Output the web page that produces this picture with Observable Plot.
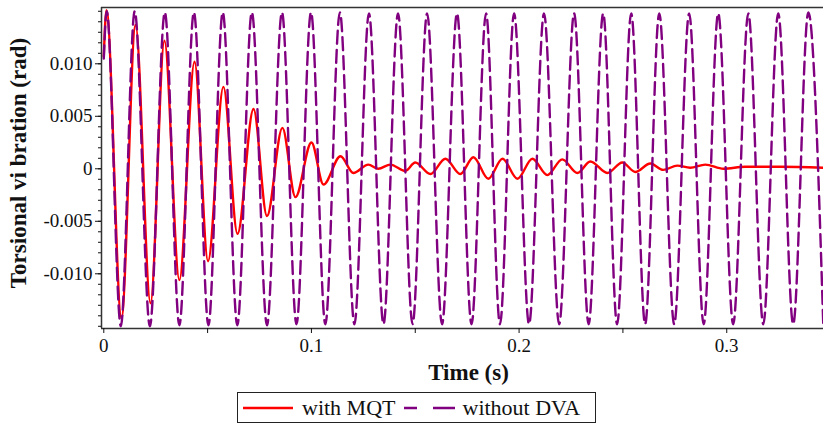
<!DOCTYPE html>
<html>
<head>
<meta charset="utf-8">
<script src="https://cdn.jsdelivr.net/npm/d3@7"></script>
<script src="https://cdn.jsdelivr.net/npm/@observablehq/plot@0.6"></script>
<style>
  html, body { margin: 0; padding: 0; background: #fff; }
  #wrap { position: relative; width: 825px; height: 425px; }
  #legend {
    position: absolute; left: 237px; top: 392px; width: 357px; height: 29px;
    border: 1.5px solid #222; display: flex; align-items: center;
    font-family: "Liberation Serif", "Times New Roman", serif; font-size: 22px; color: #111;
  }
  #legend span { white-space: nowrap; }
</style>
</head>
<body>
<div id="wrap"></div>
<script>
// ---- data ----
const seriesNames = ["with MQT", "without DVA"];

// "without DVA": extrema (time in s, angle in rad)
const purpleT = [0, 0.0014, 0.0082, 0.0149, 0.0222, 0.0294, 0.0364, 0.0434, 0.0504, 0.0573, 0.0643,
  0.0713, 0.0786, 0.0858, 0.0928, 0.0998, 0.1067, 0.1137, 0.1207, 0.1277, 0.1347, 0.1417, 0.1487,
  0.1557, 0.1629, 0.1701, 0.1771, 0.1841, 0.1908, 0.1976, 0.2048, 0.2120, 0.2193, 0.2265, 0.2335,
  0.2405, 0.2472, 0.2540, 0.2607, 0.2675, 0.2747, 0.2819, 0.2889, 0.2959, 0.3031, 0.3104, 0.3176,
  0.3248, 0.3320, 0.3393, 0.3465];
const purpleV = [0.0105, 0.0150, -0.0150, 0.0150, -0.0150, 0.0149, -0.0149, 0.0149, -0.0149, 0.0149, -0.0149,
  0.0149, -0.0149, 0.0149, -0.0148, 0.0149, -0.0148, 0.0149, -0.0148, 0.0148, -0.0148, 0.0148, -0.0148,
  0.0148, -0.0148, 0.0148, -0.0148, 0.0148, -0.0148, 0.0148, -0.0148, 0.0148, -0.0148, 0.0148, -0.0148,
  0.0148, -0.0148, 0.0148, -0.0148, 0.0148, -0.0148, 0.0148, -0.0148, 0.0148, -0.0148, 0.0148, -0.0148,
  0.0148, -0.0148, 0.0149, -0.0149];

// "with MQT": extrema (time in s, angle in rad)
const redT = [0, 0.0013, 0.0085, 0.0153, 0.0225, 0.0292, 0.0364, 0.0437, 0.0502, 0.0576, 0.0644,
  0.0721, 0.0786, 0.0860, 0.0923, 0.1000, 0.1058, 0.1140, 0.1202, 0.1274, 0.1322, 0.1380, 0.1452,
  0.1500, 0.1573, 0.1645, 0.1717, 0.1780, 0.1852, 0.1920, 0.1992, 0.2064, 0.2136, 0.2208, 0.2281,
  0.2343, 0.2425, 0.2497, 0.2560, 0.2632, 0.2694, 0.2762, 0.2824, 0.2897, 0.2984, 0.3089, 0.3258, 0.3465];
const redV = [0.0107, 0.0151, -0.0142, 0.0137, -0.0128, 0.0122, -0.0106, 0.0102, -0.0088, 0.0078, -0.0062,
  0.0057, -0.0045, 0.0039, -0.0027, 0.0025, -0.0015, 0.0012, -0.0004, 0.0004, 0.0000, 0.0004, -0.0002,
  0.0006, -0.0005, 0.00095, -0.0005, 0.0011, -0.00095, 0.00095, -0.00095, 0.00095, -0.0006, 0.0009, -0.0004,
  0.0007, -0.0004, 0.0006, -0.0003, 0.0005, -0.0001, 0.0003, 0.0001, 0.0004, 0.0000, 0.0002, 0.0002, 0.0001];

// axes
const xDomain = [-0.0011, 0.3466];
const yDomain = [-0.01521, 0.01536];
const xTicks = [0, 0.05, 0.1, 0.15, 0.2, 0.25, 0.3];
const xTickLabels = ["0", "", "0.1", "", "0.2", "", "0.3"];
const yTicks = [0.010, 0.005, 0, -0.005, -0.010];
const yTickLabels = ["0.010", "0.005", "0", "-0.005", "-0.010"];
const yMinorTicks = d3.range(-15, 16).map(d => d / 1000);
const xLabel = "Time (s)";
const yLabel = "Torsional vi bration (rad)";

const red = redT.map((t, i) => ({t, v: redV[i]}));
const purple = purpleT.map((t, i) => ({t, v: purpleV[i]}));

const font = "Liberation Serif, Times New Roman, serif";

const chart = Plot.plot({
  width: 825,
  height: 388,
  marginTop: 7,
  marginLeft: 101,
  marginRight: 2,
  marginBottom: 60,
  x: {domain: xDomain},
  y: {domain: yDomain},
  style: {fontFamily: font, fontSize: "19px", color: "#111", background: "white", overflow: "visible"},
  marks: [
    Plot.line(red, {x: "t", y: "v", stroke: "#ff0000", strokeWidth: 2.4, curve: "monotone-x", clip: true}),
    Plot.line(purple, {x: "t", y: "v", stroke: "#800080", strokeWidth: 2.4, strokeDasharray: "13,6", curve: "monotone-x", clip: true}),
    Plot.ruleY([yDomain[1]], {stroke: "#333", strokeWidth: 1.5}),
    Plot.ruleY([yDomain[0]], {stroke: "#333", strokeWidth: 1.5}),
    Plot.ruleX([xDomain[0]], {stroke: "#333", strokeWidth: 1.5}),
    Plot.axisX({ticks: xTicks, tickSize: 5, tickPadding: 5, label: null, fontSize: 19, fontFamily: font,
      tickFormat: d => xTickLabels[xTicks.indexOf(d)] ?? ""}),
    Plot.axisY({ticks: yMinorTicks, tickSize: 3, tickFormat: () => "", label: null}),
    Plot.axisY({ticks: yTicks, tickSize: 6, tickPadding: 3, label: null, fontSize: 19, fontFamily: font,
      tickFormat: d => yTickLabels[yTicks.indexOf(d)] ?? ""}),
    Plot.text([yLabel], {frameAnchor: "left", rotate: -90, dx: -83, dy: -5, fontWeight: "bold", fontSize: 23,
      fontFamily: font, textAnchor: "middle", lineAnchor: "middle", fill: "#111"}),
    Plot.text([xLabel], {frameAnchor: "bottom", dx: 6, dy: 44, fontWeight: "bold", fontSize: 23,
      fontFamily: font, textAnchor: "middle", lineAnchor: "middle", fill: "#111"})
  ]
});

const wrap = document.getElementById("wrap");
wrap.appendChild(chart);

// legend below the SVG
const legend = document.createElement("div");
legend.id = "legend";
legend.innerHTML =
  `<svg width="50" height="12" style="margin-left:5px"><line x1="0" y1="6" x2="50" y2="6" stroke="#ff0000" stroke-width="2.5"/></svg>` +
  `<span style="margin-left:9px">${seriesNames[0]}</span>` +
  `<svg width="51" height="12" style="margin-left:8px"><line x1="0" y1="6" x2="51" y2="6" stroke="#800080" stroke-width="2.5" stroke-dasharray="13,16,22"/></svg>` +
  `<span style="margin-left:8px">${seriesNames[1]}</span>`;
wrap.appendChild(legend);
</script>
</body>
</html>
